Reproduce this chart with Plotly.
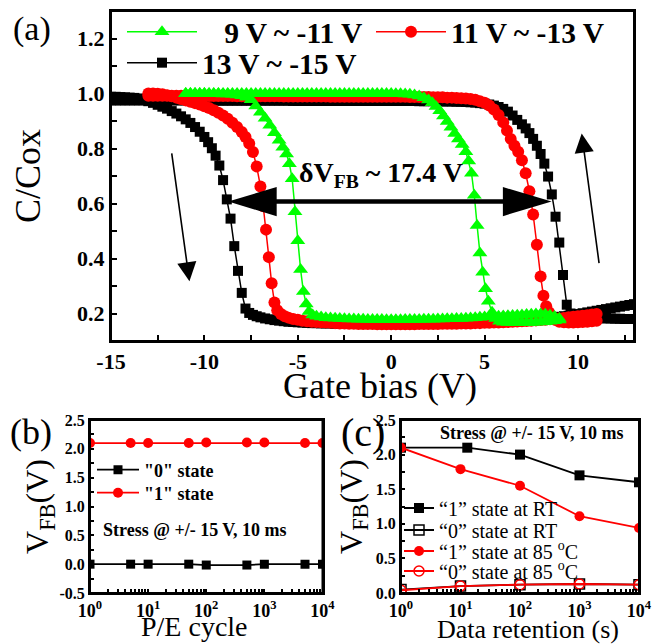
import plotly.graph_objects as go

FONT = "Liberation Serif"
W, H = 654, 644

# ---------------- (a) C-V hysteresis data: (gate bias [V], C/Cox) ----------------
black_fwd = [
    (-15, .988), (-14.75, .988), (-14.5, .987), (-14.25, .986),
    (-14, .985), (-13.75, .984), (-13.5, .982), (-13.25, .978),
    (-13, .972), (-12.75, .966), (-12.5, .959), (-12.25, .952),
    (-12, .945), (-11.75, .936), (-11.5, .927), (-11.25, .917),
    (-11, .906), (-10.75, .893), (-10.5, .878), (-10.25, .861),
    (-10, .842), (-9.8, .823), (-9.6, .801), (-9.4, .774), (-9.2, .738),
    (-9.0, .685), (-8.8, .615), (-8.6, .545), (-8.4, .445), (-8.2, .355),
    (-8.0, .275), (-7.8, .218), (-7.6, .202), (-7.4, .195), (-7.2, .190),
    (-7.0, .186), (-6.75, .182), (-6.5, .179), (-6.25, .176),
    (-6.0, .174), (-5.75, .172), (-5.5, .170), (-5.25, .169),
    (-5.0, .168), (-4.75, .167), (-4.5, .166), (-4.25, .165),
    (-4.0, .165), (-3.75, .164), (-3.5, .164), (-3.25, .164),
    (-3.0, .163), (-2.75, .163), (-2.5, .163), (-2.25, .163),
    (-2.0, .163), (-1.75, .163), (-1.5, .162), (-1.25, .162),
    (-1.0, .162), (-0.75, .162), (-0.5, .162), (-0.25, .162),
    (0.0, .162), (0.25, .162), (0.5, .162), (0.75, .163),
    (1.0, .163), (1.25, .163), (1.5, .163), (1.75, .163),
    (2.0, .164), (2.25, .164), (2.5, .164), (2.75, .165),
    (3.0, .165), (3.25, .165), (3.5, .166), (3.75, .166),
    (4.0, .167), (4.25, .167), (4.5, .168), (4.75, .168),
    (5.0, .169), (5.25, .170), (5.5, .170), (5.75, .171),
    (6.0, .172), (6.25, .173), (6.5, .174), (6.75, .175),
    (7.0, .176), (7.25, .177), (7.5, .178), (7.75, .180),
    (8.0, .181), (8.25, .183), (8.5, .184), (8.75, .186),
    (9.0, .188), (9.25, .190), (9.5, .192), (9.75, .195),
    (10.0, .198), (10.25, .201), (10.5, .204), (10.75, .207),
    (11.0, .210), (11.25, .213), (11.5, .216), (11.75, .219),
    (12.0, .222), (12.25, .225), (12.5, .228), (12.75, .231),
    (13.0, .234),
]
black_bwd = [
    (13.0, .180), (12.75, .180), (12.5, .180), (12.25, .181),
    (12.0, .181), (11.75, .182), (11.5, .182), (11.25, .183),
    (11.0, .184), (10.75, .185), (10.5, .186), (10.25, .187),
    (10.0, .189), (9.8, .192), (9.6, .200), (9.4, .232), (9.2, .340),
    (9.0, .458), (8.8, .552), (8.6, .633), (8.4, .698), (8.2, .745),
    (8.0, .780), (7.8, .810), (7.6, .835), (7.4, .856), (7.2, .873),
    (7.0, .888), (6.75, .904), (6.5, .920), (6.25, .934),
    (6.0, .944), (5.75, .951), (5.5, .956), (5.25, .960),
    (5.0, .963), (4.75, .965), (4.5, .967), (4.25, .968),
    (4.0, .969), (3.75, .970), (3.5, .970), (3.25, .971),
    (3.0, .971), (2.75, .971), (2.5, .972), (2.25, .972),
    (2.0, .972), (1.75, .972), (1.5, .972), (1.25, .973),
    (1.0, .973), (0.75, .973), (0.5, .973), (0.25, .973),
    (0.0, .973), (-0.25, .973), (-0.5, .973), (-0.75, .973),
    (-1.0, .973), (-1.25, .973), (-1.5, .973), (-1.75, .973),
    (-2.0, .973), (-2.25, .973), (-2.5, .973), (-2.75, .973),
    (-3.0, .973), (-3.25, .973), (-3.5, .973), (-3.75, .973),
    (-4.0, .973), (-4.25, .973), (-4.5, .973), (-4.75, .973),
    (-5.0, .973), (-5.25, .973), (-5.5, .974), (-5.75, .974),
    (-6.0, .974), (-6.25, .974), (-6.5, .974), (-6.75, .974),
    (-7.0, .974), (-7.25, .974), (-7.5, .974), (-7.75, .974),
    (-8.0, .974), (-8.25, .974), (-8.5, .974), (-8.75, .974),
    (-9.0, .974), (-9.25, .974), (-9.5, .975), (-9.75, .975),
    (-10.0, .975), (-10.25, .975), (-10.5, .975), (-10.75, .975),
    (-11.0, .975), (-11.25, .975), (-11.5, .975), (-11.75, .975),
    (-12.0, .975), (-12.25, .975), (-12.5, .975), (-12.75, .975),
    (-13.0, .975), (-13.25, .975), (-13.5, .975), (-13.75, .975),
    (-14.0, .975), (-14.25, .975), (-14.5, .975), (-14.75, .975),
    (-15.0, .975),
]
red_fwd = [
    (-13, 1.0), (-12.75, 1.0), (-12.5, .999), (-12.25, .997),
    (-12, .994), (-11.75, .990), (-11.5, .985), (-11.25, .980),
    (-11, .975), (-10.75, .970), (-10.5, .965), (-10.25, .960),
    (-10, .954), (-9.75, .947), (-9.5, .939), (-9.25, .930),
    (-9, .920), (-8.75, .908), (-8.5, .894), (-8.25, .878),
    (-8, .860), (-7.8, .842), (-7.6, .818), (-7.4, .787), (-7.2, .735),
    (-7.0, .662), (-6.85, .590), (-6.7, .505), (-6.55, .405), (-6.4, .310),
    (-6.25, .240), (-6.1, .212), (-5.9, .198), (-5.7, .190), (-5.5, .185),
    (-5.25, .180), (-5.0, .177), (-4.75, .174), (-4.5, .172), (-4.25, .170),
    (-4.0, .169), (-3.75, .168), (-3.5, .167), (-3.25, .166),
    (-3.0, .165), (-2.75, .164), (-2.5, .164), (-2.25, .163),
    (-2.0, .163), (-1.75, .162), (-1.5, .162), (-1.25, .162),
    (-1.0, .162), (-0.75, .161), (-0.5, .161), (-0.25, .161),
    (0.0, .161), (0.25, .161), (0.5, .161), (0.75, .161),
    (1.0, .161), (1.25, .161), (1.5, .162), (1.75, .162),
    (2.0, .162), (2.25, .162), (2.5, .162), (2.75, .163),
    (3.0, .163), (3.25, .163), (3.5, .163), (3.75, .164),
    (4.0, .164), (4.25, .164), (4.5, .165), (4.75, .165),
    (5.0, .166), (5.25, .166), (5.5, .167), (5.75, .167),
    (6.0, .168), (6.25, .169), (6.5, .170), (6.75, .171),
    (7.0, .172), (7.25, .173), (7.5, .174), (7.75, .175),
    (8.0, .176), (8.25, .177), (8.5, .179), (8.75, .180),
    (9.0, .182), (9.25, .184), (9.5, .186), (9.75, .188),
    (10.0, .190), (10.25, .192), (10.5, .194), (10.75, .196),
    (11.0, .198),
]
red_bwd = [
    (11.0, .174), (10.75, .172), (10.5, .170), (10.25, .169),
    (10.0, .168), (9.75, .167), (9.5, .167), (9.25, .168),
    (9.0, .170), (8.8, .176), (8.6, .186), (8.45, .205), (8.3, .226),
    (8.15, .265), (8.0, .335), (7.8, .450), (7.6, .560), (7.4, .645),
    (7.2, .710), (7.0, .757), (6.8, .788), (6.6, .810), (6.4, .835),
    (6.2, .865), (6.0, .895), (5.75, .922), (5.5, .942), (5.25, .956),
    (5.0, .966), (4.75, .972), (4.5, .977), (4.25, .980),
    (4.0, .982), (3.75, .983), (3.5, .984), (3.25, .985),
    (3.0, .985), (2.75, .986), (2.5, .986), (2.25, .986),
    (2.0, .987), (1.75, .987), (1.5, .987), (1.25, .987),
    (1.0, .987), (0.75, .988), (0.5, .988), (0.25, .988),
    (0.0, .988), (-0.25, .988), (-0.5, .988), (-0.75, .988),
    (-1.0, .988), (-1.25, .988), (-1.5, .988), (-1.75, .988),
    (-2.0, .988), (-2.25, .988), (-2.5, .988), (-2.75, .988),
    (-3.0, .988), (-3.25, .988), (-3.5, .989), (-3.75, .989),
    (-4.0, .989), (-4.25, .989), (-4.5, .989), (-4.75, .989),
    (-5.0, .989), (-5.25, .989), (-5.5, .989), (-5.75, .989),
    (-6.0, .990), (-6.25, .990), (-6.5, .990), (-6.75, .990),
    (-7.0, .990), (-7.25, .990), (-7.5, .990), (-7.75, .990),
    (-8.0, .990), (-8.25, .990), (-8.5, .991), (-8.75, .991),
    (-9.0, .991), (-9.25, .991), (-9.5, .991), (-9.75, .991),
    (-10.0, .991), (-10.25, .991), (-10.5, .991), (-10.75, .992),
    (-11.0, .992), (-11.25, .992), (-11.5, .992), (-11.75, .992),
    (-12.0, .992), (-12.25, .992), (-12.5, .992), (-12.75, .992),
    (-13.0, .992),
]
green_fwd = [
    (-11, 1.0), (-10.75, 1.0), (-10.5, 1.0), (-10.25, 1.0),
    (-10, 1.0), (-9.75, .999), (-9.5, .999), (-9.25, .999),
    (-9, .998), (-8.75, .998), (-8.5, .997), (-8.25, .995),
    (-8, .992), (-7.75, .986), (-7.5, .977), (-7.25, .955),
    (-7, .932), (-6.75, .910), (-6.5, .885), (-6.25, .857),
    (-6.0, .830), (-5.8, .805), (-5.6, .780), (-5.45, .745), (-5.3, .690),
    (-5.15, .570), (-5.0, .465), (-4.85, .360), (-4.7, .280), (-4.55, .235),
    (-4.4, .207), (-4.2, .195), (-4.0, .190), (-3.75, .187),
    (-3.5, .185), (-3.25, .184), (-3.0, .183), (-2.75, .182),
    (-2.5, .181), (-2.25, .180), (-2.0, .180), (-1.75, .179),
    (-1.5, .179), (-1.25, .178), (-1.0, .178), (-0.75, .178),
    (-0.5, .178), (-0.25, .177), (0.0, .177), (0.25, .177),
    (0.5, .177), (0.75, .178), (1.0, .178), (1.25, .178),
    (1.5, .178), (1.75, .179), (2.0, .179), (2.25, .179),
    (2.5, .180), (2.75, .180), (3.0, .181), (3.25, .181),
    (3.5, .182), (3.75, .182), (4.0, .183), (4.25, .184),
    (4.5, .185), (4.75, .186), (5.0, .187), (5.25, .188),
    (5.5, .189), (5.75, .190), (6.0, .191), (6.25, .192),
    (6.5, .193), (6.75, .194), (7.0, .195), (7.25, .196),
    (7.5, .197), (7.75, .198), (8.0, .198), (8.25, .197),
    (8.5, .194), (8.75, .189), (9.0, .182),
]
green_bwd = [
    (9.0, .176), (8.75, .174), (8.5, .172), (8.25, .170),
    (8.0, .169), (7.75, .168), (7.5, .167), (7.25, .167),
    (7.0, .166), (6.75, .166), (6.5, .166), (6.25, .167),
    (6.0, .168), (5.8, .172), (5.6, .182), (5.4, .205),
    (5.2, .245), (5.05, .290), (4.9, .350), (4.75, .420), (4.6, .520),
    (4.45, .630), (4.3, .710), (4.15, .755), (4.0, .788), (3.8, .815),
    (3.6, .835), (3.4, .855), (3.2, .877), (3.0, .898), (2.8, .918),
    (2.6, .937), (2.4, .953), (2.2, .966), (2.0, .976), (1.75, .985),
    (1.5, .991), (1.25, .995), (1.0, .997), (0.75, .998),
    (0.5, .999), (0.25, .999), (0.0, 1.0), (-0.25, 1.0),
    (-0.5, 1.0), (-0.75, 1.0), (-1.0, 1.0), (-1.25, 1.0),
    (-1.5, 1.0), (-1.75, 1.0), (-2.0, 1.0), (-2.25, 1.0),
    (-2.5, 1.0), (-2.75, 1.0), (-3.0, 1.0), (-3.25, 1.0),
    (-3.5, 1.0), (-3.75, 1.0), (-4.0, 1.0), (-4.25, 1.0),
    (-4.5, 1.0), (-4.75, 1.0), (-5.0, 1.0), (-5.25, 1.0),
    (-5.5, 1.0), (-5.75, 1.0), (-6.0, 1.0), (-6.25, 1.0),
    (-6.5, 1.0), (-6.75, 1.0), (-7.0, 1.0), (-7.25, 1.0),
    (-7.5, 1.0), (-7.75, 1.0), (-8.0, 1.0), (-8.25, 1.0),
    (-8.5, 1.0), (-8.75, 1.0), (-9.0, 1.0), (-9.25, 1.0),
    (-9.5, 1.0), (-9.75, 1.0), (-10.0, 1.0), (-10.25, 1.0),
    (-10.5, 1.0), (-10.75, 1.0), (-11.0, 1.0),
]
gate_ticks = [-15, -10, -5, 0, 5, 10]
gate_tick_labels = ["-15", "-10", "-5", "0", "5", "10"]
cv_ticks = [0.2, 0.4, 0.6, 0.8, 1.0, 1.2]
cv_tick_labels = ["0.2", "0.4", "0.6", "0.8", "1.0", "1.2"]

# ---------------- (b) endurance ----------------
pe_cycles = [1, 5, 10, 50, 100, 500, 1000, 5000, 10000]
endurance_state0 = [0.0, 0.0, 0.0, 0.0, -0.015, -0.015, 0.0, 0.0, 0.0]
endurance_state1 = [2.10, 2.10, 2.10, 2.10, 2.11, 2.11, 2.11, 2.10, 2.10]

# ---------------- (c) retention ----------------
retention_t = [1, 10, 100, 1000, 10000]
retention_t_rt1 = [1, 13, 100, 1000, 10000]
rt_state1 = [2.10, 2.10, 2.00, 1.70, 1.60]
rt_state0 = [0.05, 0.10, 0.12, 0.13, 0.12]
ht_state1 = [2.10, 1.79, 1.55, 1.11, 0.94]
ht_state0 = [0.04, 0.10, 0.12, 0.13, 0.12]

log_ticks = [1, 10, 100, 1000, 10000]
log_tick_labels = ["10<sup>0</sup>", "10<sup>1</sup>", "10<sup>2</sup>", "10<sup>3</sup>", "10<sup>4</sup>"]
vfb_b_ticks = [-0.5, 0.0, 0.5, 1.0, 1.5, 2.0, 2.5]
vfb_b_labels = ["-0.5", "0.0", "0.5", "1.0", "1.5", "2.0", "2.5"]
vfb_c_ticks = [0.0, 0.5, 1.0, 1.5, 2.0, 2.5]
vfb_c_labels = ["0.0", "0.5", "1.0", "1.5", "2.0", "2.5"]

# minor tick positions (unlabelled)
gate_minor = [-12.5, -7.5, -2.5, 2.5, 7.5, 12.5]
cv_minor = [0.3, 0.5, 0.7, 0.9, 1.1]
log_minor = [k * 10 ** e for e in range(4) for k in range(2, 10)]
vfb_b_minor = [-0.25, 0.25, 0.75, 1.25, 1.75, 2.25]
vfb_c_minor = [0.25, 0.75, 1.25, 1.75, 2.25]

RED = "#FF0000"
GREEN = "#00FF00"


def split(fwd, bwd):
    pts = fwd + bwd
    return [p[0] for p in pts], [p[1] for p in pts]


def with_minor(major, labels, minor):
    return list(major) + list(minor), list(labels) + [""] * len(minor)


fig = go.Figure()

bx, by = split(black_fwd, black_bwd)
rx, ry = split(red_fwd, red_bwd)
gx, gy = split(green_fwd, green_bwd)

fig.add_trace(go.Scatter(x=bx, y=by, mode="lines+markers", name="13 V ~ -15 V",
                         line=dict(color="black", width=1.5),
                         marker=dict(symbol="square", size=10, color="black"),
                         legend="legend2", xaxis="x", yaxis="y"))
fig.add_trace(go.Scatter(x=rx, y=ry, mode="lines+markers", name="11 V ~ -13 V",
                         line=dict(color=RED, width=1.5),
                         marker=dict(symbol="circle", size=12, color=RED),
                         legend="legend", legendrank=2, xaxis="x", yaxis="y"))
fig.add_trace(go.Scatter(x=gx, y=gy, mode="lines+markers", name="\u00a0\u00a0\u00a09 V ~ -11 V",
                         line=dict(color=GREEN, width=1.5),
                         marker=dict(symbol="triangle-up", size=13, color=GREEN),
                         legend="legend", legendrank=1, xaxis="x", yaxis="y"))

# (b)
fig.add_trace(go.Scatter(x=pe_cycles, y=endurance_state0, mode="lines+markers", name='"0" state',
                         line=dict(color="black", width=1.8),
                         marker=dict(symbol="square", size=9, color="black"),
                         legend="legend3", xaxis="x2", yaxis="y2"))
fig.add_trace(go.Scatter(x=pe_cycles, y=endurance_state1, mode="lines+markers", name='"1" state',
                         line=dict(color=RED, width=1.8),
                         marker=dict(symbol="circle", size=10, color=RED),
                         legend="legend4", xaxis="x2", yaxis="y2"))

# (c)
fig.add_trace(go.Scatter(x=retention_t_rt1, y=rt_state1, mode="lines+markers", name="\u201c1\u201d state at RT",
                         line=dict(color="black", width=1.8),
                         marker=dict(symbol="square", size=10, color="black"),
                         legend="legend5", xaxis="x3", yaxis="y3"))
fig.add_trace(go.Scatter(x=retention_t, y=rt_state0, mode="lines+markers", name="\u201c0\u201d state at RT",
                         line=dict(color="black", width=1.8),
                         marker=dict(symbol="square-open", size=10, color="black", line=dict(width=1.5)),
                         legend="legend6", xaxis="x3", yaxis="y3"))
fig.add_trace(go.Scatter(x=retention_t, y=ht_state1, mode="lines+markers", name="\u201c1\u201d state at 85 <sup>o</sup>C",
                         line=dict(color=RED, width=1.8),
                         marker=dict(symbol="circle", size=10, color=RED),
                         legend="legend7", xaxis="x3", yaxis="y3"))
fig.add_trace(go.Scatter(x=retention_t, y=ht_state0, mode="lines+markers", name="\u201c0\u201d state at 85 <sup>o</sup>C",
                         line=dict(color=RED, width=1.8),
                         marker=dict(symbol="circle-open", size=10, color=RED, line=dict(width=1.5)),
                         legend="legend8", xaxis="x3", yaxis="y3"))

axis_common = dict(showline=True, linewidth=2, linecolor="black", mirror=True,
                   ticks="inside", tickwidth=2, tickcolor="black",
                   showgrid=False, zeroline=False, automargin=False)
bold = dict(family=FONT, weight="bold", color="black")

xt, xl = with_minor(gate_ticks, gate_tick_labels, gate_minor)
yt, yl = with_minor(cv_ticks, cv_tick_labels, cv_minor)
lt, ll = with_minor(log_ticks, log_tick_labels, log_minor)
bt, bl = with_minor(vfb_b_ticks, vfb_b_labels, vfb_b_minor)
ct, cl = with_minor(vfb_c_ticks, vfb_c_labels, vfb_c_minor)

fig.update_layout(
    template="none",
    width=W, height=H, autosize=False,
    margin=dict(l=0, r=0, t=0, b=0),
    paper_bgcolor="white", plot_bgcolor="white",
    font=dict(family=FONT, color="black"),
    xaxis=dict(axis_common, domain=[111 / W, 634 / W], range=[-15, 13], anchor="y",
               tickmode="array", tickvals=xt, ticktext=xl, ticklen=6,
               tickfont=dict(bold, size=22)),
    yaxis=dict(axis_common, domain=[1 - 341 / H, 1 - 11 / H], range=[0.1, 1.3], anchor="x",
               tickmode="array", tickvals=yt, ticktext=yl, ticklen=6,
               tickfont=dict(bold, size=22),
               title=dict(text="C/Cox", font=dict(size=36), standoff=25)),
    xaxis2=dict(axis_common, type="log", domain=[90 / W, 322.5 / W], range=[0, 4], anchor="y2",
                tickmode="array", tickvals=lt, ticktext=ll, ticklen=4,
                tickfont=dict(bold, size=18)),
    yaxis2=dict(axis_common, domain=[1 - 593 / H, 1 - 420 / H], range=[-0.5, 2.5], anchor="x2",
                tickmode="array", tickvals=bt, ticktext=bl, ticklen=4,
                tickfont=dict(bold, size=16),
                title=dict(text="V<sub>FB</sub>(V)", font=dict(size=32), standoff=1)),
    xaxis3=dict(axis_common, type="log", domain=[401 / W, 639 / W], range=[0, 4], anchor="y3",
                tickmode="array", tickvals=lt, ticktext=ll, ticklen=4,
                tickfont=dict(bold, size=18)),
    yaxis3=dict(axis_common, domain=[1 - 593 / H, 1 - 420 / H], range=[0, 2.5], anchor="x3",
                tickmode="array", tickvals=ct, ticktext=cl, ticklen=4,
                tickfont=dict(bold, size=16),
                title=dict(text="V<sub>FB</sub>(V)", font=dict(size=32), standoff=4)),
)

leg_top = dict(orientation="h", xanchor="left", yanchor="middle", bgcolor="rgba(0,0,0,0)",
               font=dict(bold, size=29.5), itemwidth=70, itemclick=False,
               entrywidth=164, entrywidthmode="pixels")
leg_b = dict(xanchor="left", yanchor="middle", bgcolor="rgba(0,0,0,0)",
             font=dict(bold, size=18), itemwidth=42)
leg_c = dict(xanchor="left", yanchor="middle", bgcolor="rgba(0,0,0,0)",
             font=dict(family=FONT, size=20, color="black"), itemwidth=30)
fig.update_layout(
    legend=dict(leg_top, x=122 / W, y=1 - 32 / H),
    legend2=dict(leg_top, x=122 / W, y=1 - 63 / H),
    legend3=dict(leg_b, x=92 / W, y=1 - 470 / H),
    legend4=dict(leg_b, x=92 / W, y=1 - 493 / H),
    legend5=dict(leg_c, x=399 / W, y=1 - 508 / H),
    legend6=dict(leg_c, x=399 / W, y=1 - 530 / H),
    legend7=dict(leg_c, x=399 / W, y=1 - 551 / H),
    legend8=dict(leg_c, x=399 / W, y=1 - 571 / H),
)


# annotations: panel labels, x-axis titles, notes and arrows
def note(text, x, y, **font):
    return dict(text=text, x=x / W, y=1 - y / H, xref="paper", yref="paper", showarrow=False,
                xanchor="center", yanchor="middle", font=font)


ann = [
    note("(a)", 32, 29, size=34),
    note("(b)", 31, 432, size=36),
    note("(c)", 363, 432, size=40),
    note("Gate bias (V)", 380, 386, size=36),
    note("P/E cycle", 194, 626, size=28),
    note("Data retention (s)", 528, 629, size=26),
    note("Stress @ +/- 15 V, 10 ms", 195, 530, **bold, size=18),
    note("Stress @ +/- 15 V, 10 ms", 532, 433, **bold, size=18),
    dict(text="\u03b4V<sub>FB</sub> ~ 17.4 V", x=-0.55, y=0.705, xref="x", yref="y",
         xanchor="center", yanchor="middle", showarrow=False, font=dict(bold, size=28)),
    dict(text="", x=-10.8, y=0.317, ax=-11.76, ay=0.788, xref="x", yref="y", axref="x", ayref="y",
         showarrow=True, arrowhead=2, arrowsize=2.4, arrowwidth=1.6, arrowcolor="black"),
    dict(text="", x=10.2, y=0.855, ax=11.14, ay=0.378, xref="x", yref="y", axref="x", ayref="y",
         showarrow=True, arrowhead=2, arrowsize=2.4, arrowwidth=1.6, arrowcolor="black"),
]
fig.update_layout(annotations=ann)

shapes = [
    dict(type="line", xref="x", yref="y", x0=-6.3, y0=0.607, x1=6.15, y1=0.607,
         line=dict(color="black", width=4.5)),
    dict(type="path", xref="x", yref="y", path="M -8.72,0.607 L -6.13,0.66 L -6.13,0.554 Z",
         fillcolor="black", line=dict(width=0)),
    dict(type="path", xref="x", yref="y", path="M 8.59,0.607 L 5.98,0.66 L 5.98,0.554 Z",
         fillcolor="black", line=dict(width=0)),
]
# panel frames (box around each plot area)
for xa, ya in (("x", "y"), ("x2", "y2"), ("x3", "y3")):
    shapes.append(dict(type="rect", xref=f"{xa} domain", yref=f"{ya} domain",
                       x0=0, x1=1, y0=0, y1=1, line=dict(color="black", width=2)))
fig.update_layout(shapes=shapes)

fig.write_html("out.html", config={"displayModeBar": False},
               post_script="document.body.style.margin='0px';")
